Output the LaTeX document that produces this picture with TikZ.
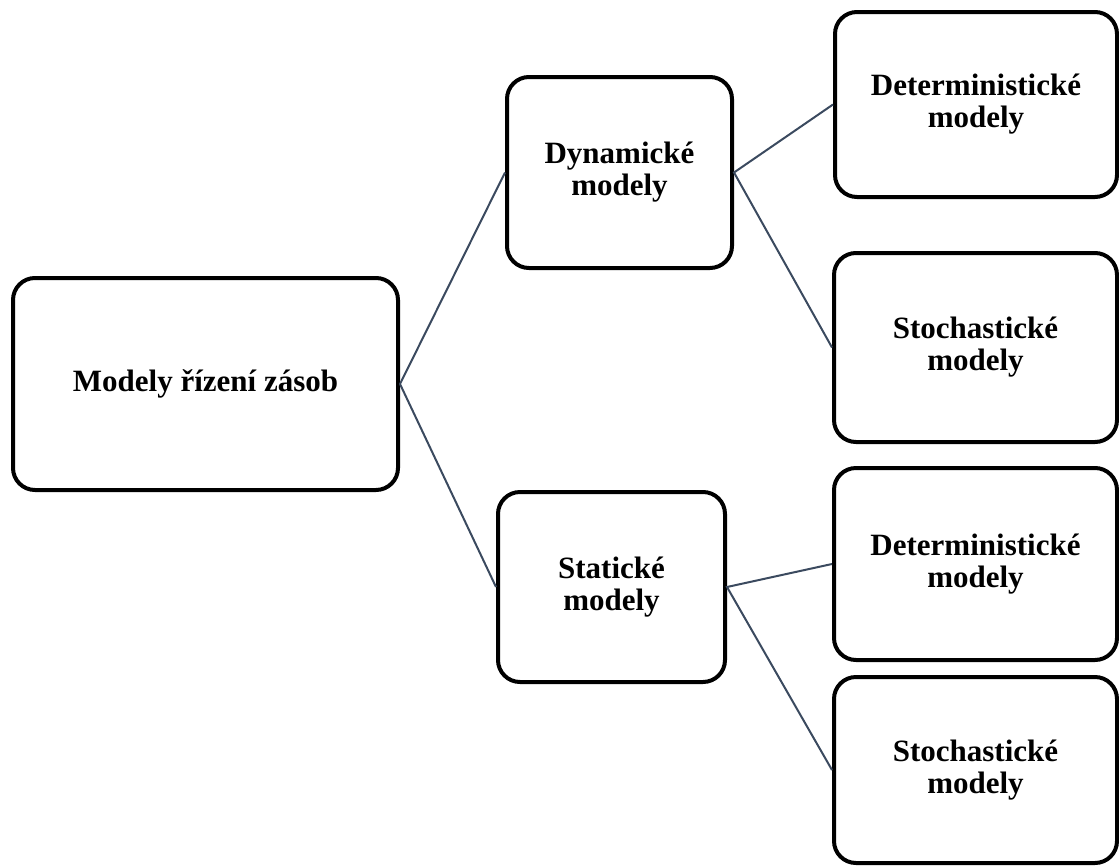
\documentclass[tikz,border=0pt]{standalone}
\usepackage{fontspec}
\setmainfont{Liberation Serif}
\usepackage{tikz}
\definecolor{linkgray}{HTML}{3B4A5F}
\tikzset{
  modelnode/.style = {align=center, inner sep=0pt, text centered,
    font=\bfseries\fontsize{31}{32}\selectfont},
  mb/.style = {modelnode, rectangle, rounded corners=22pt, black,
    draw=black, line width=4pt},
  link/.style = {draw=linkgray, line width=2pt}
}
\begin{document}
\begin{tikzpicture}[x=1pt,y=-1pt]
\useasboundingbox (0,0) rectangle (1119,865);
\node [mb, minimum width=385pt, minimum height=212pt] (root) at (205.5,384) {Modely řízení zásob};
\node [mb, minimum width=225pt, minimum height=191pt] (dyn) at (619.5,172.5) {Dynamické\\modely};
\node [mb, minimum width=227pt, minimum height=190pt] (stat) at (611.5,587) {Statické\\modely};
\node [mb, minimum width=282pt, minimum height=185pt] (dyndet) at (976,104.5) {Deterministické\\modely};
\node [mb, minimum width=283pt, minimum height=189pt] (dynsto) at (975.5,347.5) {Stochastické\\modely};
\node [mb, minimum width=283pt, minimum height=192pt] (statdet) at (975.5,564) {Deterministické\\modely};
\node [mb, minimum width=283pt, minimum height=186pt] (statsto) at (975.5,770) {Stochastické\\modely};
\draw [link] (dyn.west) -- (root.east) -- (stat.west);
\draw [link] (dyndet.west) -- (dyn.east) -- (dynsto.west);
\draw [link] (statdet.west) -- (stat.east) -- (statsto.west);
\end{tikzpicture}
\end{document}
